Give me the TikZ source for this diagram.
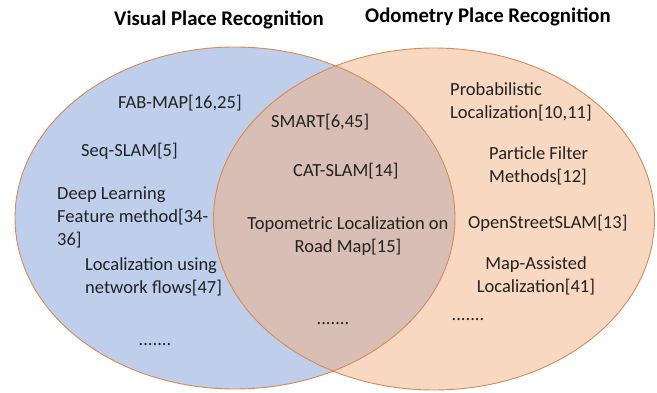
\documentclass[tikz,border=0pt]{standalone}
\usepackage{fontspec}
\setmainfont{Carlito}
\definecolor{vpr}{HTML}{BFCEEA}
\definecolor{opr}{HTML}{F8D8C0}
\definecolor{ovl}{HTML}{D8BEB5}
\definecolor{rim}{HTML}{D68A55}
\definecolor{ink}{HTML}{222222}
\tikzset{
  body/.style={font=\fontsize{18.5}{23}\selectfont, inner sep=0pt, text=ink},
  ttl/.style={font=\bfseries\fontsize{20.8}{25}\selectfont, inner sep=0pt, text=black},
  rimline/.style={draw=rim, line width=0.9pt}
}
\begin{document}
\begin{tikzpicture}[x=1pt,y=-1pt]
\useasboundingbox (0,0) rectangle (657,393);
% fills
\fill[vpr] (235,218) ellipse [x radius=220pt, y radius=171pt];
\fill[opr] (434,219) ellipse [x radius=220.5pt, y radius=171pt];
\begin{scope}
  \clip (235,218) ellipse [x radius=220pt, y radius=171pt];
  \fill[ovl] (434,219) ellipse [x radius=220.5pt, y radius=171pt];
\end{scope}
\draw[rimline] (235,218) ellipse [x radius=220pt, y radius=171pt];
\draw[rimline] (434,219) ellipse [x radius=220.5pt, y radius=171pt];
% titles
\node[ttl] (tl) at (219,20) {Visual Place Recognition};
\node[ttl] (tr) at (488,17) {Odometry Place Recognition};
% left set
\node[body, anchor=west] (fab) at (118,103) {FAB-MAP[16,25]};
\node[body, anchor=west] (seq) at (81,151) {Seq-SLAM[5]};
\node[body, anchor=west, align=left] (deep) at (57,217) {Deep Learning\\Feature method[34-\\36]};
\node[body, anchor=west, align=left] (flow) at (85,276.5) {Localization using\\network flows[47]};
\node[body] (dl) at (155,345) {.......};
% intersection
\node[body, anchor=west] (smart) at (271,122) {SMART[6,45]};
\node[body, anchor=west] (cat) at (293,171) {CAT-SLAM[14]};
\node[body, align=center] (topo) at (348,236) {Topometric Localization on\\Road Map[15]};
\node[body] (dm) at (333,324) {.......};
% right set
\node[body, anchor=west, align=left] (prob) at (450,102) {Probabilistic\\Localization[10,11]};
\node[body, anchor=west, align=left] (pf) at (489,165.5) {Particle Filter\\Methods[12]};
\node[body, anchor=west] (osm) at (468,223) {OpenStreetSLAM[13]};
\node[body, align=center] (mapa) at (536,275.5) {Map-Assisted\\Localization[41]};
\node[body] (dr) at (468,320) {.......};
\end{tikzpicture}
\end{document}
